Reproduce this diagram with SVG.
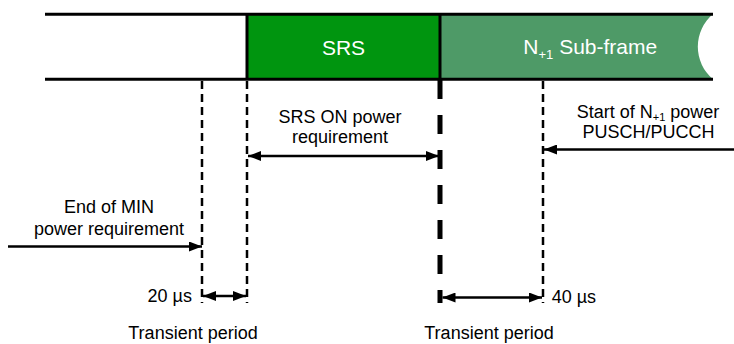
<svg xmlns="http://www.w3.org/2000/svg" width="734" height="344" viewBox="0 0 734 344">
<style>
text{font-family:"Liberation Sans",Arial,sans-serif;font-size:18px;fill:#000}
.w{fill:#fff;font-size:21px}
.bar{stroke:#000;stroke-width:3;fill:none}
.thin{stroke:#000;stroke-width:2.5;stroke-dasharray:8 5;fill:none}
.thick{stroke:#000;stroke-width:5;stroke-dasharray:19 16;fill:none}
.arr{stroke:#000;stroke-width:2.5;fill:none}
</style>
<defs>
<marker id="ah" markerUnits="userSpaceOnUse" markerWidth="13" markerHeight="10" refX="13" refY="5" orient="auto-start-reverse" viewBox="0 0 13 10">
<path d="M0,0 L13,5 L0,10 z" fill="#000"/>
</marker>
</defs>
<rect width="734" height="344" fill="#fff"/>
<g id="bar-before">
<line class="bar" x1="45" y1="14.3" x2="247" y2="14.3"/>
<line class="bar" x1="45" y1="79.3" x2="247" y2="79.3"/>
</g>
<g id="srs">
<rect x="247" y="14" width="193" height="65" fill="#00950F"/>
<text class="w" x="343.5" y="54.5" text-anchor="middle">SRS</text>
</g>
<g id="subframe">
<path d="M440,14 L713,14 A42.7,42.7 0 0 0 713,79.3 L440,79.3 Z" fill="#4E9A67"/>
<text class="w" x="523.3" y="54.3" font-size="20.5">N<tspan font-size="13" dy="5">+1</tspan><tspan dy="-5"> Sub-frame</tspan></text>
</g>
<g id="bar-lines">
<line class="bar" x1="247" y1="14.3" x2="713" y2="14.3"/>
<line class="bar" x1="247" y1="79.3" x2="713" y2="79.3"/>
<line class="bar" x1="247" y1="13" x2="247" y2="80"/>
<line class="bar" x1="440" y1="13" x2="440" y2="80"/>
</g>
<g id="labels">
<text x="340" y="123.3" text-anchor="middle">SRS ON power</text>
<text x="340" y="143.3" text-anchor="middle">requirement</text>
<text x="648" y="118" text-anchor="middle">Start of N<tspan font-size="11" dy="3">+1</tspan><tspan dy="-3"> power</tspan></text>
<text x="648.5" y="138" text-anchor="middle">PUSCH/PUCCH</text>
<text x="109" y="213.3" text-anchor="middle">End of MIN</text>
<text x="109" y="234.5" text-anchor="middle">power requirement</text>
<text x="192" y="301.7" text-anchor="end">20 µs</text>
<text x="551.7" y="302.5">40 µs</text>
<text x="193" y="338.5" text-anchor="middle">Transient period</text>
<text x="489" y="339" text-anchor="middle">Transient period</text>
</g>
<g id="connectors">
<line class="thin" x1="202" y1="81" x2="202" y2="303"/>
<line class="thin" x1="247" y1="81" x2="247" y2="303"/>
<line class="thin" x1="543" y1="81" x2="543" y2="303"/>
<line class="thick" x1="440" y1="80" x2="440" y2="303"/>
<line class="arr" x1="8" y1="246.5" x2="202" y2="246.5" marker-end="url(#ah)"/>
<line class="arr" x1="203" y1="296" x2="246" y2="296" marker-start="url(#ah)" marker-end="url(#ah)"/>
<line class="arr" x1="248" y1="156" x2="439" y2="156" marker-start="url(#ah)" marker-end="url(#ah)"/>
<line class="arr" x1="734" y1="149.5" x2="544" y2="149.5" marker-end="url(#ah)"/>
<line class="arr" x1="442.5" y1="297.5" x2="542" y2="297.5" marker-start="url(#ah)" marker-end="url(#ah)"/>
</g>
</svg>
